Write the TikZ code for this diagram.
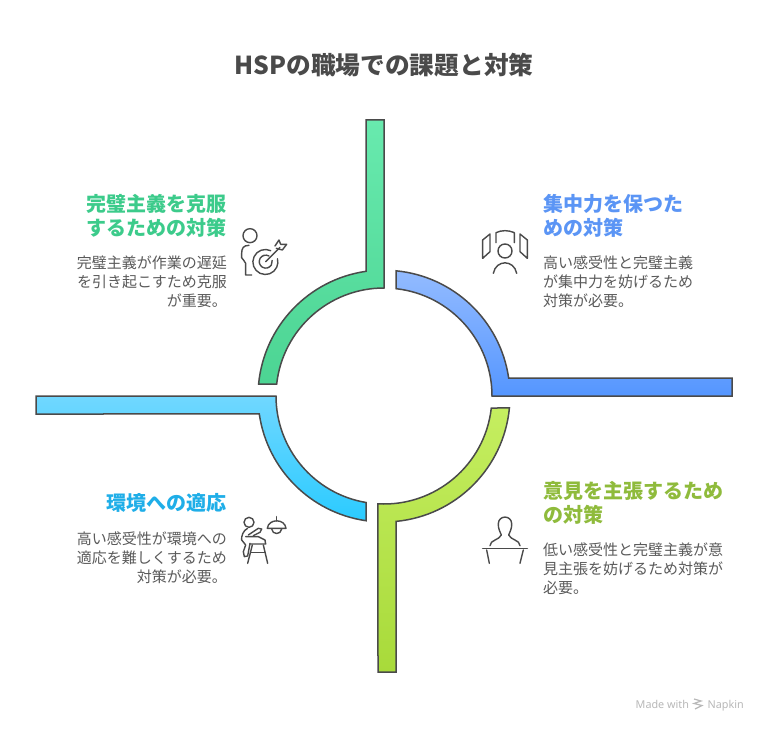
\documentclass[tikz,border=0pt]{standalone}
\usepackage{fontspec}
\setmainfont{Noto Sans CJK JP}
\newfontfamily\wmfont{Noto Sans}
\definecolor{ink}{HTML}{4A4A4A}
\definecolor{txt}{HTML}{5A5A5A}
\definecolor{hgreen}{HTML}{3CCB8B}
\definecolor{hblue}{HTML}{5B95F5}
\definecolor{hlime}{HTML}{8FBB3C}
\definecolor{hcyan}{HTML}{1FAEE8}
\definecolor{wm}{HTML}{B8B8B8}
\tikzset{
  band/.style={draw=ink,line width=1.5pt,line join=miter},
  icon/.style={draw=ink,line width=1.4pt,line cap=round,line join=round},
  head/.style={inner sep=0pt,font=\fontsize{20}{23.5}\selectfont\bfseries},
  body/.style={inner sep=0pt,text=txt,font=\fontsize{15}{18.9}\selectfont},
  wmark/.style={inner sep=0pt,text=wm,anchor=base west,font=\wmfont\fontsize{10.8}{12}\selectfont},
}
\begin{document}
\begin{tikzpicture}[x=1pt,y=-1pt]
\useasboundingbox (0,0) rectangle (768,733);
\fill[white] (0,0) rectangle (768,733);
\node[inner sep=0pt,text=ink,font=\fontsize{24.7}{28}\selectfont\bfseries] (title) at (384,65) {HSPの職場での課題と対策};
% bands
\shade[band,top color={rgb,255:red,104;green,234;blue,174},middle color={rgb,255:red,98;green,235;blue,169},bottom color={rgb,255:red,76;green,212;blue,147}]
 (366,120)--(384,120)--(384,288) arc[start angle=90,end angle=173.62,radius=108pt] -- (258.6,384) arc[start angle=174.53,end angle=98.21,radius=126pt] -- cycle;
\shade[band,top color={rgb,255:red,147;green,187;blue,255},bottom color={rgb,255:red,85;green,150;blue,255}]
 (396,270.8) arc[start angle=84.53,end angle=8.21,radius=126pt] -- (732,378)--(732,396)--(492,396) arc[start angle=0,end angle=83.62,radius=108pt] -- cycle;
\shade[band,top color={rgb,255:red,197;green,238;blue,96},middle color={rgb,255:red,192;green,234;blue,84},bottom color={rgb,255:red,168;green,218;blue,58}]
 (491.3,408) arc[start angle=-6.38,end angle=-93.2,radius=108pt] -- (378,672)--(396,672)--(396,521.4) arc[start angle=-84.53,end angle=-5.47,radius=126pt] -- cycle;
\shade[band,top color={rgb,255:red,112;green,215;blue,255},bottom color={rgb,255:red,43;green,203;blue,255}]
 (36,396)--(276,396) arc[start angle=180,end angle=260.41,radius=108pt] -- (366,520.7) arc[start angle=261.79,end angle=188.21,radius=126pt] -- (36,414) -- cycle;
% texts
\node[head,text=hgreen,anchor=north east,align=right] (gh) at (227,194.5) {完璧主義を克服\\するための対策};
\node[body,anchor=north east,align=right] (gb) at (227,255.5) {完璧主義が作業の遅延\\を引き起こすため克服\\が重要。};
\node[head,text=hblue,anchor=north west,align=left] (bh) at (543,194.5) {集中力を保つた\\めの対策};
\node[body,anchor=north west,align=left] (bb) at (543,255.5) {高い感受性と完璧主義\\が集中力を妨げるため\\対策が必要。};
\node[head,text=hlime,anchor=north west,align=left] (lh) at (543,481.5) {意見を主張するため\\の対策};
\node[body,anchor=north west,align=left] (lb) at (543,542.5) {低い感受性と完璧主義が意\\見主張を妨げるため対策が\\必要。};
\node[head,text=hcyan,anchor=north east,align=right] (ch) at (227,493.5) {環境への適応};
\node[body,anchor=north east,align=right] (cb) at (227,531.5) {高い感受性が環境への\\適応を難しくするため\\対策が必要。};
% watermark
\node[wmark] (wm1) at (635.5,708) {Made with};
\node[wmark] (wm2) at (707.5,708) {Napkin};
\draw[wm,line width=1.2pt] (694,699)--(701,701)--(694,703.5)--(702,705.5)--(695,709);
% target icon
\begin{scope}[shift={(225,220)},x=0.3333pt,y=-0.3333pt]
\draw[icon] (75,47) circle[radius=21];
\draw[icon] (72,76) .. controls (55,76) and (50,85) .. (50,100) -- (50,113) .. controls (52,122) and (62,122) .. (62,130) -- (62,165) -- (80,165);
\draw[icon] (137,92) arc[start angle=65,end angle=375,radius=12.5pt];
\draw[icon] (132,108) arc[start angle=60,end angle=370,radius=6.5pt];
\draw[icon] (122,125) -- (165,82);
\draw[icon] (150,78) -- (162,60) -- (167,73) -- (185,73) -- (172,90) -- (154,85);
\end{scope}
% panels icon
\begin{scope}[shift={(470,220)},x=0.3333pt,y=-0.3333pt]
\draw[icon] (105,93) circle[radius=21];
\draw[icon] (70,160) .. controls (78,118) and (132,118) .. (140,160);
\draw[icon] (78,68) -- (78,38) .. controls (95,30) and (115,30) .. (133,38) -- (133,68);
\draw[icon] (38,115) -- (38,60) -- (60,42) -- (60,95) -- cycle;
\draw[icon] (172,115) -- (172,60) -- (150,42) -- (150,95) -- cycle;
\end{scope}
% desk icon
\begin{scope}[shift={(470,505)},x=0.3333pt,y=-0.3333pt]
\draw[icon] (38,131) -- (172,131);
\draw[icon] (50,135) -- (58,175);
\draw[icon] (160,135) -- (150,175);
\draw[icon] (60,122) .. controls (60,105) and (88,105) .. (94,90) .. controls (90,80) and (84,70) .. (85,55) .. controls (87,30) and (123,30) .. (125,55) .. controls (126,70) and (120,80) .. (116,90) .. controls (122,105) and (150,105) .. (150,122);
\end{scope}
% child and lamp icon
\begin{scope}[shift={(225,495)},x=0.3333pt,y=-0.3333pt]
\draw[icon] (72,82) circle[radius=15];
\draw[icon] (155,65) -- (155,78);
\draw[icon] (127,100) .. controls (130,70) and (180,70) .. (183,100) -- cycle;
\draw[icon] (140,102) .. controls (142,120) and (168,120) .. (170,102);
\draw[icon] (68,100) .. controls (55,105) and (48,125) .. (50,135) -- (62,150) -- (55,170) -- (58,185) -- (68,183) -- (75,145);
\draw[icon] (70,120) -- (100,100) -- (110,102) -- (105,112) -- (85,122);
\draw[icon] (62,125) -- (100,125) -- (120,135) -- (122,147) -- (75,147);
\draw[icon] (82,150) -- (68,205);
\draw[icon] (115,150) -- (128,205);
\draw[icon] (78,172) -- (120,172);
\end{scope}
\end{tikzpicture}
\end{document}
